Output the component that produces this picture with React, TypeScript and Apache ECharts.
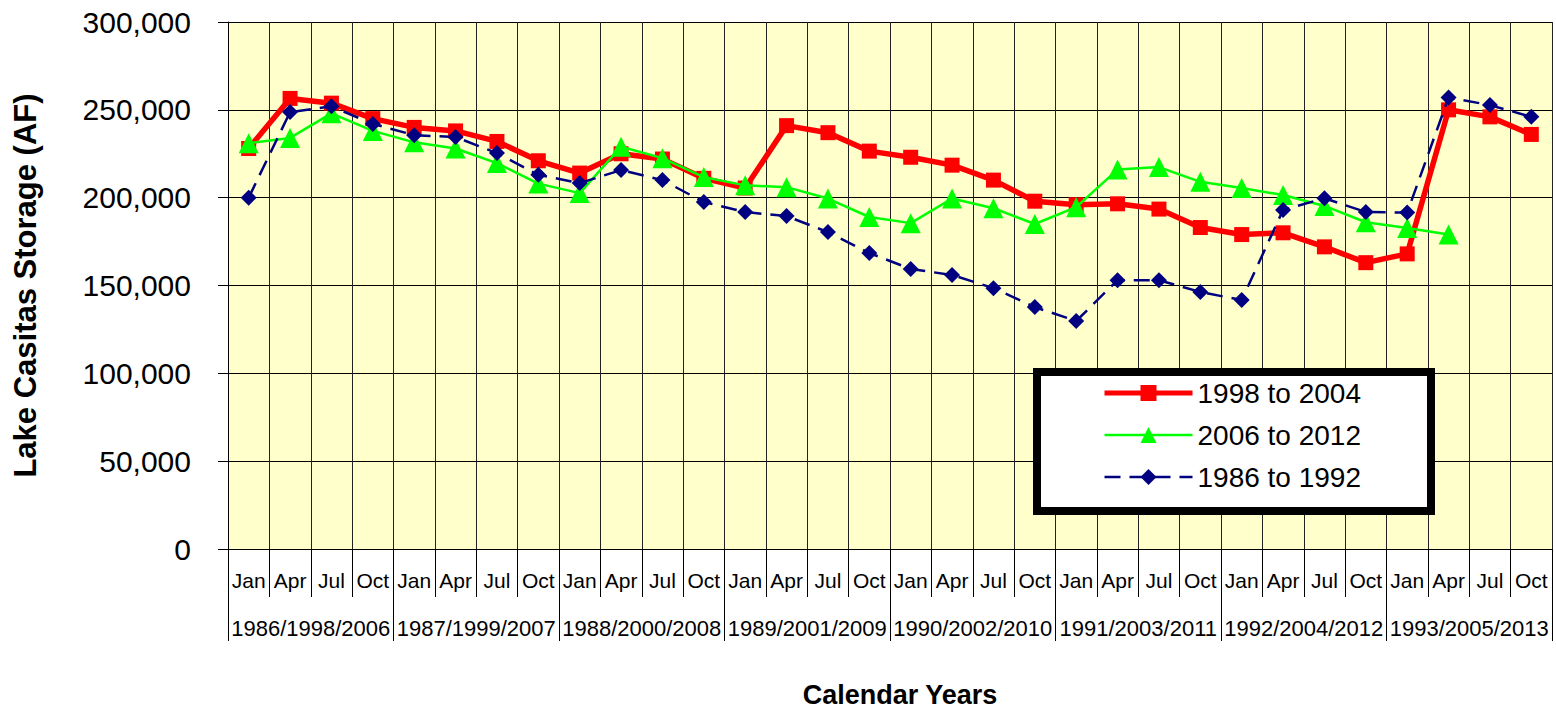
import React, { useEffect, useRef } from "react";
import * as echarts from "echarts";

const months = ["Jan","Apr","Jul","Oct","Jan","Apr","Jul","Oct","Jan","Apr","Jul","Oct","Jan","Apr","Jul","Oct","Jan","Apr","Jul","Oct","Jan","Apr","Jul","Oct","Jan","Apr","Jul","Oct","Jan","Apr","Jul","Oct"];
const yearGroups = ["1986/1998/2006","1987/1999/2007","1988/2000/2008","1989/2001/2009","1990/2002/2010","1991/2003/2011","1992/2004/2012","1993/2005/2013"];
const yTicks = [0, 50000, 100000, 150000, 200000, 250000, 300000];

const red9804 = [228000,256500,253800,245000,240000,238000,232000,221000,214000,225000,222000,211000,205500,241000,237000,226500,223000,218500,210000,198000,196000,196500,193500,183000,179000,180000,172000,163000,168000,250000,246000,236000];
const green0612 = [231000,234000,248000,238000,231500,228000,219700,208000,202600,229000,222500,211700,207000,206000,199500,189000,185500,199500,194000,185000,194600,216000,217400,209000,205500,201500,195300,186000,182700,179000,null,null];
const navy8692 = [200000,248700,252000,242000,235600,234500,225400,213000,208300,215700,210000,197500,191800,189500,180400,168500,159400,156000,148500,137700,129800,153000,153000,146300,141700,193000,199700,191800,191500,257000,252700,246000];

const FONT = "'Liberation Sans', Arial, sans-serif";

export default function App() {
  const ref = useRef<HTMLDivElement>(null);
  useEffect(() => {
    document.body.style.margin = "0";
    if (!ref.current) return;
    const chart = echarts.init(ref.current, null, { renderer: "svg" });
    chart.setOption({
      animation: false,
      textStyle: { fontFamily: FONT },
      grid: {
        left: 228, right: 4, top: 22, bottom: 162,
        outerBoundsMode: "none",
        containLabel: false,
        show: true, backgroundColor: "#FFFFCC", borderWidth: 0,
      },
      legend: {
        orient: "vertical",
        left: 1037,
        top: 372,
        backgroundColor: "#ffffff",
        borderColor: "#000000",
        borderWidth: 8,
        padding: [7, 70, 20, 65],
        itemWidth: 88,
        itemHeight: 20,
        itemGap: 14,
        textStyle: { fontSize: 28, color: "#000", fontFamily: FONT },
        data: [
          { name: "1998 to 2004", lineStyle: { width: 5 } },
          { name: "2006 to 2012", lineStyle: { width: 2.5 } },
          { name: "1986 to 1992", lineStyle: { width: 2.5 } },
        ],
      },
      xAxis: [
        {
          type: "category",
          data: months,
          position: "bottom",
          boundaryGap: true,
          axisLine: { show: true, lineStyle: { color: "#000", width: 1 } },
          axisTick: { show: true, interval: 0, length: 48, lineStyle: { color: "#000" } },
          axisLabel: { interval: 0, margin: 21, fontSize: 21, color: "#000", fontFamily: FONT },
          splitLine: { show: true, interval: 0, lineStyle: { color: "#222", width: 1 } },
          name: "Calendar Years",
          nameLocation: "middle",
          nameGap: 132,
          nameMoveOverlap: false,
          nameTextStyle: { fontSize: 27, fontWeight: "bold", color: "#000", fontFamily: FONT, padding: [0, 0, 0, 20] },
        },
        {
          type: "category",
          data: yearGroups,
          position: "bottom",
          boundaryGap: true,
          axisLine: { show: false },
          axisTick: { show: true, interval: 0, length: 92, lineStyle: { color: "#000" } },
          axisLabel: { interval: 0, margin: 68, fontSize: 22, color: "#000", fontFamily: FONT },
          splitLine: { show: false },
        },
      ],
      yAxis: {
        type: "value",
        min: 0,
        max: 300000,
        interval: 50000,
        axisLine: { show: true, lineStyle: { color: "#000" } },
        axisTick: { show: true, length: 10, lineStyle: { color: "#000" } },
        axisLabel: {
          fontSize: 30,
          color: "#000",
          margin: 37,
          fontFamily: FONT,
          formatter: (v: number) => (yTicks.includes(v) ? v.toLocaleString("en-US") : ""),
        },
        splitLine: { show: true, lineStyle: { color: "#000", width: 1 } },
        name: "Lake Casitas Storage (AF)",
        nameLocation: "middle",
        nameGap: 187,
        nameMoveOverlap: false,
        nameTextStyle: { fontSize: 31, fontWeight: "bold", color: "#000", fontFamily: FONT },
      },
      series: [
        {
          name: "1998 to 2004",
          type: "line",
          data: red9804,
          xAxisIndex: 0,
          symbol: "rect",
          symbolSize: 15,
          lineStyle: { color: "#FF0000", width: 5.5 },
          itemStyle: { color: "#FF0000" },
          z: 3,
        },
        {
          name: "2006 to 2012",
          type: "line",
          data: green0612,
          xAxisIndex: 0,
          symbol: "triangle",
          symbolSize: 20,
          lineStyle: { color: "#00FF00", width: 2.5 },
          itemStyle: { color: "#00FF00" },
          z: 4,
        },
        {
          name: "1986 to 1992",
          type: "line",
          data: navy8692,
          xAxisIndex: 0,
          symbol: "diamond",
          symbolSize: 16,
          lineStyle: { color: "#000080", width: 2.5, type: [16, 9] },
          itemStyle: { color: "#000080" },
          z: 5,
        },
      ],
    });
    return () => chart.dispose();
  }, []);
  return <div ref={ref} style={{ width: 1556, height: 711 }} />;
}
